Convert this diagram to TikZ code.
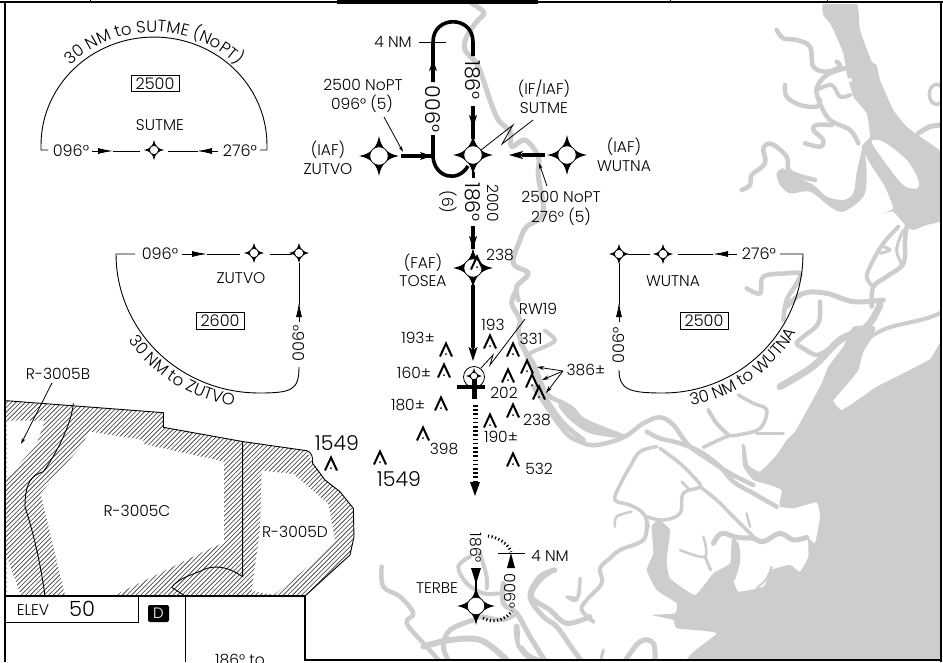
\documentclass[tikz,border=0pt]{standalone}
\usepackage{fontspec}
\setmainfont{Poppins}[UprightFont={* Light}]
\usetikzlibrary{arrows.meta,decorations.text,decorations.pathreplacing}
\definecolor{water}{HTML}{CDCDCD}
\newcommand{\fs}[1]{\fontsize{#1}{#1}\selectfont}
\tikzset{
 lbl/.style={inner sep=0pt,font=\fs{15.5}},
 big/.style={inner sep=0pt,font=\fs{20.5}},
 mid/.style={inner sep=0pt,font=\fs{16}},
 thin line/.style={line width=0.9pt,line join=round},
 leader/.style={line width=0.8pt,-{Stealth[length=6pt,width=3.5pt]}},
 track/.style={line width=3.6pt,line join=round},
 wedge/.style={line width=0.9pt,-{Latex[length=15pt,width=6pt]}},
 hatchline/.style={line width=0.6pt,black!80},
 minbox/.style={draw,line width=0.8pt,inner sep=0pt,minimum width=48pt,minimum height=16.5pt,font=\fs{16}},
 Z1/.style={shift={(280,0)},x=0.33333pt,y=-0.33333pt},
 Z5/.style={shift={(640,0)},x=0.33333pt,y=-0.33333pt},
 Z6/.style={shift={(500,330)},x=0.33333pt,y=-0.33333pt},
 Z8/.style={shift={(370,480)},x=0.33333pt,y=-0.33333pt},
 Z10/.style={shift={(600,230)},x=0.33333pt,y=-0.33333pt},
 Z2/.style={shift={(0,380)},x=0.33333pt,y=-0.33333pt},
 Z3/.style={shift={(370,290)},x=0.33333pt,y=-0.33333pt},
 frameline/.style={line width=2pt,line cap=butt},
}
% fix symbol: centre name, x, y, tip radius
\newcommand{\fixmark}[4]{%
 \coordinate (#1) at (#2,#3);
 \begin{scope}[shift={(#2,#3)},x=#4pt,y=#4pt]
  \fill (1,0) .. controls (.42,.1) and (.1,.42) .. (0,1)
        .. controls (-.1,.42) and (-.42,.1) .. (-1,0)
        .. controls (-.42,-.1) and (-.1,-.42) .. (0,-1)
        .. controls (.1,-.42) and (.42,-.1) .. (1,0) -- cycle;
  \draw[fill=white,line width=0.7pt] (0,0) circle[radius=.46];
 \end{scope}}
% obstacle symbol
\newcommand{\obst}[2]{%
 \begin{scope}[shift={(#1,#2)}]
  \draw[line width=2pt,line join=miter] (-6,6.5) -- (0,-6.5) -- (6,6.5);
  \fill (0,4) circle[radius=1];
 \end{scope}}
\newcommand{\riv}[2]{\draw[water,line width=#1pt,line cap=round,line join=round] plot[smooth,tension=.6] coordinates {#2};}
\begin{document}
\begin{tikzpicture}[x=1pt,y=-1pt]
\useasboundingbox (0,0) rectangle (943,662);
\fill[white] (0,0) rectangle (943,662);
% ---------- water
\begin{scope}
\clip (6,4) rectangle (941,660);
\begin{scope}[Z1]
\riv{5}{(575,10)(612,38)(590,65)(560,110)(555,150)(590,190)(610,240)(630,300)(655,360)(690,395)(695,440)(735,420)(775,470)(775,530)(790,640)(740,680)(720,720)(700,790)(745,820)(710,860)(715,900)}
\end{scope}
\begin{scope}[Z3]
\riv{5}{(440,0)(425,40)(450,90)(445,130)(470,195)(500,270)(530,330)(580,400)(640,450)}
\riv{4}{(470,195)(500,180)(525,170)(555,150)(525,122)}
\end{scope}
\begin{scope}[Z5]
\fill[water] plot[smooth cycle,tension=.25] coordinates {(550,10)(650,10)(660,90)(695,185)(710,195)(720,240)(760,330)(800,380)(840,410)(930,480)(930,650)(860,675)(820,690)(800,680)(760,635)(730,640)(760,625)(735,560)(690,490)(665,440)(690,410)(680,340)(640,290)(620,220)(610,160)(585,100)(570,70)(550,45)};
\fill[white] plot[smooth cycle,tension=.5] coordinates {(695,425)(730,425)(800,480)(835,540)(830,565)(790,555)(730,480)};
\fill[white] (630,240) circle[radius=6];
\riv{4.5}{(410,90)(430,115)(470,120)(510,140)(520,200)(560,215)(600,200)(590,185)}
\riv{4.5}{(615,205)(560,225)(530,265)(540,310)(570,360)(630,390)(655,430)}
\riv{4}{(530,270)(575,255)(600,290)(630,285)}
\riv{4.5}{(435,255)(440,290)(480,315)(530,320)(540,300)}
\riv{4.5}{(495,430)(540,440)(550,420)(520,390)(530,375)(575,375)}
\riv{4.5}{(305,570)(330,555)(335,525)(375,490)(370,445)(395,432)(440,470)(450,515)(525,540)}
\fill[water] plot[smooth cycle,tension=.5] coordinates {(410,520)(430,505)(450,520)(520,555)(560,590)(610,600)(640,580)(650,520)(670,440)(680,520)(670,590)(610,635)(570,620)(510,575)(450,580)(420,555)};
\riv{5}{(835,400)(870,380)(905,375)}
\draw[water,line width=3.5pt] (890,283) circle[x radius=22,y radius=30];
\riv{4}{(775,680)(730,730)(700,780)(680,830)(700,860)}
\riv{4.5}{(800,680)(795,720)(790,790)(740,830)(700,860)(695,920)}
\riv{3}{(720,760)(750,750)(730,740)}
\riv{4.5}{(320,865)(360,880)(370,830)(440,820)(480,820)(470,850)(440,900)(430,960)}
\riv{5}{(730,900)(640,905)(560,880)(490,880)(440,920)}
\end{scope}
\begin{scope}[Z10]
\riv{4}{(1040,240)(980,265)(860,295)(790,335)}
\riv{7}{(840,225)(800,290)(720,330)(650,400)(600,435)(540,470)}
\riv{4.5}{(660,215)(655,280)(610,320)(590,340)(610,355)(650,375)(690,355)}
\riv{3}{(910,0)(890,60)(910,110)}
\end{scope}
\begin{scope}[Z6]
\fill[water] plot[smooth cycle,tension=.25] coordinates {(1340,50)(1290,88)(1200,135)(1130,170)(1080,205)(1025,240)(1000,212)(1040,165)(1075,120)(1090,65)(1115,25)(1125,-10)(1060,-10)(1030,50)(985,110)(965,160)(930,225)(885,305)(860,330)(830,375)(780,425)(745,405)(735,345)(725,345)(730,410)(760,450)(810,465)(845,480)(840,510)(840,530)(880,535)(950,517)(960,560)(945,640)(925,625)(925,680)(900,725)(870,705)(815,720)(790,770)(715,785)(700,745)(720,695)(708,630)(695,630)(690,700)(640,730)(585,795)(510,745)(500,690)(510,600)(475,570)(455,590)(460,670)(440,720)(470,780)(530,820)(525,850)(455,855)(520,870)(530,895)(650,910)(570,1000)(1340,1000)};
\riv{4.5}{(60,40)(100,100)(140,190)(200,225)(250,270)(370,320)}
\riv{4.5}{(100,170)(190,300)(240,335)(290,345)(370,322)(430,280)(480,262)(520,285)(565,345)(620,385)(690,430)(760,465)}
\fill[water] plot[smooth cycle,tension=.5] coordinates {(175,225)(215,225)(260,270)(370,312)(370,325)(270,310)(210,270)};
\riv{4.5}{(440,305)(480,325)(540,340)(600,365)(660,410)(700,455)(760,490)(830,530)}
\riv{3.5}{(610,352)(680,320)(715,315)(780,295)(800,240)(760,220)(715,195)}
\riv{4}{(625,240)(650,280)(685,315)}
\riv{3.5}{(770,310)(810,310)(850,310)}
\riv{3.5}{(470,350)(420,365)(390,410)(360,465)(345,510)(390,525)(430,550)(445,590)}
\riv{3.5}{(480,355)(540,400)(580,440)(600,470)(550,490)(540,550)(490,570)(440,560)}
\riv{3.5}{(600,470)(650,510)(690,550)(730,590)(760,620)}
\riv{2.5}{(545,455)(570,480)}
\riv{2.5}{(740,550)(750,590)}
\riv{2.5}{(345,590)(350,560)(395,545)}
\riv{5}{(640,640)(665,610)(710,622)(760,625)(790,635)(840,610)(880,630)(920,622)}
\riv{2.5}{(610,620)(615,680)(540,660)}
\riv{3}{(615,680)(632,720)}
\riv{4}{(710,640)(715,690)(700,745)}
\riv{2}{(815,710)(800,745)(770,775)}
\riv{4}{(440,580)(430,630)(360,660)(330,685)(300,715)(305,760)(260,810)(245,840)(280,875)}
\riv{3}{(240,745)(235,800)(205,800)}
\riv{5}{(160,720)(120,750)(95,800)(150,840)(200,880)(270,860)}
\riv{5}{(370,1000)(420,935)(460,940)(465,1000)}
\end{scope}
\begin{scope}[Z8]
\riv{4.5}{(35,260)(40,320)(90,350)(130,400)(110,430)(170,500)(215,550)}
\riv{4}{(300,230)(265,260)(290,310)(340,340)(385,340)}
\riv{4}{(330,220)(350,290)(350,325)}
\riv{5}{(400,310)(400,370)(440,400)(480,470)(530,550)}
\riv{5}{(555,270)(510,290)(480,350)(520,410)(560,440)(610,510)(640,550)}
\riv{3}{(630,295)(620,360)(590,350)}
\riv{3}{(700,510)(690,550)}
\riv{5}{(310,420)(240,450)(220,500)(240,550)}
\riv{4}{(310,420)(340,410)(400,420)(440,400)}
\riv{6}{(160,500)(240,480)(330,480)(400,530)(415,550)}
\riv{6}{(440,440)(450,500)(500,540)(620,550)}
\fill[white] (455,480) circle[x radius=6,y radius=18];
\fill[white] (530,510) circle[x radius=18,y radius=7];
\end{scope}
\end{scope}
% ---------- restricted areas
\begin{scope}
\clip[Z2] (18,62) -- (490,98) -- (490,142) -- (730,185) -- (920,212) -- (938,250) -- (975,300) -- (1020,335) -- (1060,385) -- (1062,470) -- (1050,525) -- (915,648) -- (18,648) -- cycle;
\foreach \i in {-200,-195.4,...,360}{\draw[hatchline] (\i,600) -- (\i+200,400);}
\end{scope}
\begin{scope}[Z2]
\fill[white] (268,155) -- (430,180) -- (430,192) -- (672,245) -- (672,490) -- (640,500) -- (345,645) -- (195,645) -- (122,340) -- (245,198) -- cycle;
\fill[white] (20,122) -- (135,122) -- (108,195) -- (20,295) -- cycle;
\fill[white] (20,530) -- (62,645) -- (20,645) -- cycle;
\fill[white] (785,272) -- (880,282) -- (985,372) -- (1005,480) -- (930,555) -- (820,645) -- (755,632) -- (780,450) -- cycle;
\draw[thin line] (18,62) -- (490,98) -- (490,142) -- (730,185) -- (920,212) .. controls (935,215) and (940,235) .. (938,250) -- (975,300) -- (1020,335) -- (1060,385) -- (1062,470) -- (1050,525) -- (915,648);
\draw[thin line] (220,70) .. controls (215,130) and (170,220) .. (130,275) .. controls (100,285) and (75,300) .. (75,380) .. controls (100,460) and (120,540) .. (135,648);
\draw[thin line] (728,185) -- (728,590) .. controls (690,565) and (660,555) .. (620,565) .. controls (580,585) and (540,590) .. (515,622) -- (555,648);
\end{scope}
\node[lbl] (r3005b) at (58,374) {R-3005B};
\draw[leader] (r3005b.south) ++(-6,3) -- (21,444);
\node[lbl] (r3005c) at (137,511) {R-3005C};
\node[lbl] (r3005d) at (295,532) {R-3005D};
% ---------- frame and inset
\fill[white] (6,596) rectangle (305,662);
\draw[line width=1.6pt] (0,2) -- (943,2);
\draw[line width=3.6pt] (337,2) -- (538,2);
\draw[line width=1pt] (90,0) -- (90,3) (670,0) -- (670,3) (827,0) -- (827,3);
\draw[frameline] (5,2) -- (5,662);
\draw[frameline] (941,2) -- (941,662);
\draw[frameline] (5,596) -- (305,596) -- (305,660) -- (942,660);
\draw[line width=1pt] (138,596) -- (138,622) -- (5,622);
\draw[line width=1pt] (185,596) -- (185,662);
\node[lbl] (elev) at (33,610) {ELEV};
\node[big,font=\fs{21}] (elevval) at (82,609) {50};
\node[fill=black,rounded corners=2pt,text=white,inner sep=0pt,minimum width=21pt,minimum height=17pt,font=\fs{15}] (dbox) at (158.5,613.5) {D};
\node[lbl] (toline) at (240,660) {186° to};
% ---------- SUTME minimums sector
\draw[thin line] (48,150) -- (41,150) -- plot[domain=180:0,samples=50] ({154+113*cos(\x)},{145-108*sin(\x)}) -- (267,150) -- (260,150);
\path[postaction={decorate,decoration={text along path,text align=center,text={|\fs{16.5}|30 NM to SUTME (NoPT)}}}] plot[domain=155:25,samples=60] ({154+118*cos(\x)},{145-113*sin(\x)});
\node[lbl,font=\fs{16}] (d096a) at (71,151) {096°};
\node[lbl,font=\fs{16}] (d276a) at (240,151) {276°};
\draw[thin line] (92,151) -- (98,151);
\draw[wedge] (98,151) -- (113,151);
\draw[thin line] (113,151) -- (140,151);
\draw[thin line] (168,151) -- (198,151);
\draw[wedge] (212,151) -- (197,151);
\draw[thin line] (212,151) -- (218,151);
\fixmark{fixa}{154}{150}{10}
\node[lbl] (sutmea) at (160,125) {SUTME};
\node[minbox] (box1) at (155,83.5) {2500};
% ---------- ZUTVO minimums sector
\draw[thin line] (135,254) -- (116,254) -- plot[domain=0:90,samples=40] ({259-143*cos(\x)},{254+139*sin(\x)}) .. controls (292,393) and (299,390) .. (299,367);
\path[postaction={decorate,decoration={text along path,text align=center,text={|\fs{16.5}|30 NM to ZUTVO}}}] plot[domain=25:90,samples=50] ({259-158*cos(\x)},{254+154*sin(\x)});
\node[lbl,font=\fs{16}] (d096b) at (160,254) {096°};
\draw[thin line] (182,254) -- (192,254);
\draw[wedge] (192,254) -- (207,254);
\draw[thin line] (207,254) -- (240,254);
\fixmark{fixb}{254}{253}{10}
\draw[thin line] (270,254) -- (292,254);
\fixmark{fixc}{299}{253}{10}
\draw[thin line] (299,263) -- (299,305);
\draw[wedge] (299,322) -- (299,302);
\node[lbl,font=\fs{16},rotate=90] (d006b) at (299,343) {006°};
\node[lbl] (zutvob) at (241,278) {ZUTVO};
\node[minbox] (box2) at (220,321) {2600};
% ---------- WUTNA minimums sector
\draw[thin line] (780,254) -- (803,254) -- plot[domain=90:0,samples=40] ({663+140*sin(\x)},{254+139*cos(\x)}) .. controls (630,393) and (619,390) .. (619,370);
\path[postaction={decorate,decoration={text along path,text align=center,text={|\fs{16.5}|30 NM to WUTNA}}}] plot[domain=0:70,samples=50] ({663+155*sin(\x)},{254+154*cos(\x)});
\node[lbl,font=\fs{16}] (d276b) at (759,254) {276°};
\draw[thin line] (737,254) -- (728,254);
\draw[wedge] (728,254) -- (713,254);
\draw[thin line] (713,254) -- (678,254);
\fixmark{fixd}{619}{254}{10}
\draw[thin line] (628,254) -- (650,254);
\fixmark{fixe}{663}{254}{10}
\draw[thin line] (619,263) -- (619,305);
\draw[wedge] (619,322) -- (619,302);
\node[lbl,font=\fs{16},rotate=90] (d006c) at (619,345) {006°};
\node[lbl] (wutnab) at (673,281) {WUTNA};
\node[minbox] (box3) at (704,321) {2500};
% ---------- main fixes
\fixmark{zutvo}{379}{156}{20}
\fixmark{sutme}{473}{155}{20}
\fixmark{wutna}{567}{155}{20}
\fixmark{tosea}{473}{268}{20}
\fixmark{terbe}{476}{606}{19}
% holding pattern at SUTME
\draw[track] (433,82) -- (433,42) .. controls (433,15) and (473,15) .. (473,42) -- (473,56);
\draw[track] (433,135) -- (433,157) .. controls (435,178) and (458,183) .. (468,166);
\draw[line width=1.3pt,-{Stealth[length=11pt,width=8pt,inset=3pt]}] (433,82) -- (433,60);
\draw[line width=0.9pt] (419,42) -- (446,42);
\node[lbl] (fournm) at (393,42) {4 NM};
\node[big,rotate=-90] (d006) at (433,109) {006°};
\node[big,rotate=-90] (d186a) at (473,80) {186°};
\draw[track] (473,106) -- (473,139);
\draw[line width=1.3pt,-{Stealth[length=13pt,width=8pt,inset=3pt]}] (473,106) -- (473,128);
% entry arrows
\draw[track] (401,156) -- (433,156);
\draw[line width=1.3pt,-{Stealth[length=12pt,width=8pt,inset=3pt]}] (415,156) -- (432,156);
\draw[track] (545,155) -- (522,155);
\draw[line width=1.3pt,-{Stealth[length=14pt,width=8pt,inset=3pt]}] (528,155) -- (509,155);
% labels
\node[lbl] (npt1) at (363,85) {2500 NoPT};
\node[lbl] (npt1b) at (362,104) {096° (5)};
\draw[leader] (384,117) -- (403,152);
\node[lbl] (iaf1) at (328,150) {(IAF)};
\node[lbl] (zutvol) at (328,169) {ZUTVO};
\node[lbl] (ifiaf) at (544,89) {(IF/IAF)};
\node[lbl] (sutmel) at (544,108) {SUTME};
\draw[line width=0.8pt] (481,150) -- (513,125) -- (502,144) -- (533,120);
\node[lbl] (iaf2) at (624,147) {(IAF)};
\node[lbl] (wutnal) at (624,166) {WUTNA};
\node[lbl] (npt2) at (561,197) {2500 NoPT};
\node[lbl] (npt2b) at (561,217) {276° (5)};
\draw[leader] (547,186) -- (539,163);
% final approach
\draw[line width=3pt] (473,172) -- (473,178);
\node[big,rotate=-90] (d186b) at (473,202) {186°};
\node[lbl,rotate=-90] (alt2000) at (493,203) {2000};
\node[lbl,rotate=-90] (dist6) at (448,202) {(6)};
\draw[track] (473,226) -- (473,249);
\draw[line width=1.3pt,-{Stealth[length=13pt,width=8pt,inset=3pt]}] (473,226) -- (473,249);
\node[lbl] (o238a) at (500,255) {238};
\node[lbl] (fafl) at (423,263) {(FAF)};
\node[lbl] (tosea) at (423,281) {TOSEA};
\obst{477}{263}
\draw[line width=4pt] (473,285) -- (473,348);
\draw[line width=1.3pt,-{Stealth[length=14pt,width=9pt,inset=3pt]}] (473,345) -- (473,361);
% airport
\draw[fill=white,line width=0.8pt] (474,377) circle[radius=10.5];
\fixmark{apt}{474}{376}{8}
\draw[line width=4pt] (457,386.5) -- (485,386.5);
\draw[line width=5pt] (474,379) -- (474,399);
% missed approach
\draw[line width=5pt,dash pattern=on 1.6pt off 2.6pt] (475,405) -- (475,482);
\fill (470,482) -- (480,482) -- (475,496) -- cycle;
% obstacles
\obst{446}{350}\obst{444}{371}\obst{441}{404}\obst{423}{434}\obst{380}{458}
\obst{490}{342}\obst{513}{350}\obst{508}{376}\obst{513}{411}\obst{490}{421}\obst{513}{460}
\obst{527}{367}\obst{532}{381}\obst{539}{393}\obst{331}{464}
\node[lbl] (o193p) at (418,338) {193±};
\node[lbl] (o160p) at (414,373) {160±};
\node[lbl] (o180p) at (408,405) {180±};
\node[lbl] (o398) at (444,449) {398};
\node[big] (o1549a) at (399,479) {1549};
\node[big] (o1549b) at (337,443) {1549};
\node[lbl] (o193) at (493,325) {193};
\node[lbl] (o331) at (531,339) {331};
\node[lbl] (o202) at (504,393) {202};
\node[lbl] (o238b) at (537,420) {238};
\node[lbl] (o190p) at (501,437) {190±};
\node[lbl] (o532) at (539,469) {532};
\node[lbl] (o386p) at (586,370) {386±};
\node[lbl] (rw19) at (538,309) {RW19};
\draw[line width=0.8pt] (525,319) -- (490,365) -- (493,355) -- (481,368);
\coordinate (leadfrom) at (563,371);
\draw[line width=0.8pt,-{Stealth[length=7pt,width=4pt]}] (leadfrom) -- (537,367);
\draw[line width=0.8pt,-{Stealth[length=7pt,width=4pt]}] (leadfrom) -- (542,380);
\draw[line width=0.8pt,-{Stealth[length=7pt,width=4pt]}] (leadfrom) -- (546,393);
% TERBE hold
\node[lbl,rotate=-90] (d186c) at (476,548) {186°};
\fill (471,568) -- (481,568) -- (476,584) -- cycle;
\draw[line width=1.2pt] (476,580) -- (476,590);
\node[lbl] (terbel) at (437,588) {TERBE};
\draw[line width=1pt] (498,553) -- (525,553);
\fill (507,568) -- (515,568) -- (511,553) -- cycle;
\node[lbl] (fournmb) at (550,556) {4 NM};
\node[lbl,rotate=-90] (d006d) at (510,591) {006°};
\draw[line width=3pt,dash pattern=on 1.2pt off 2.4pt] (488,536) .. controls (497,537) and (508,543) .. (511,552);
\draw[line width=3pt,dash pattern=on 1.2pt off 2.4pt] (483,618) .. controls (492,623) and (505,621) .. (512,611);
\end{tikzpicture}
\end{document}
